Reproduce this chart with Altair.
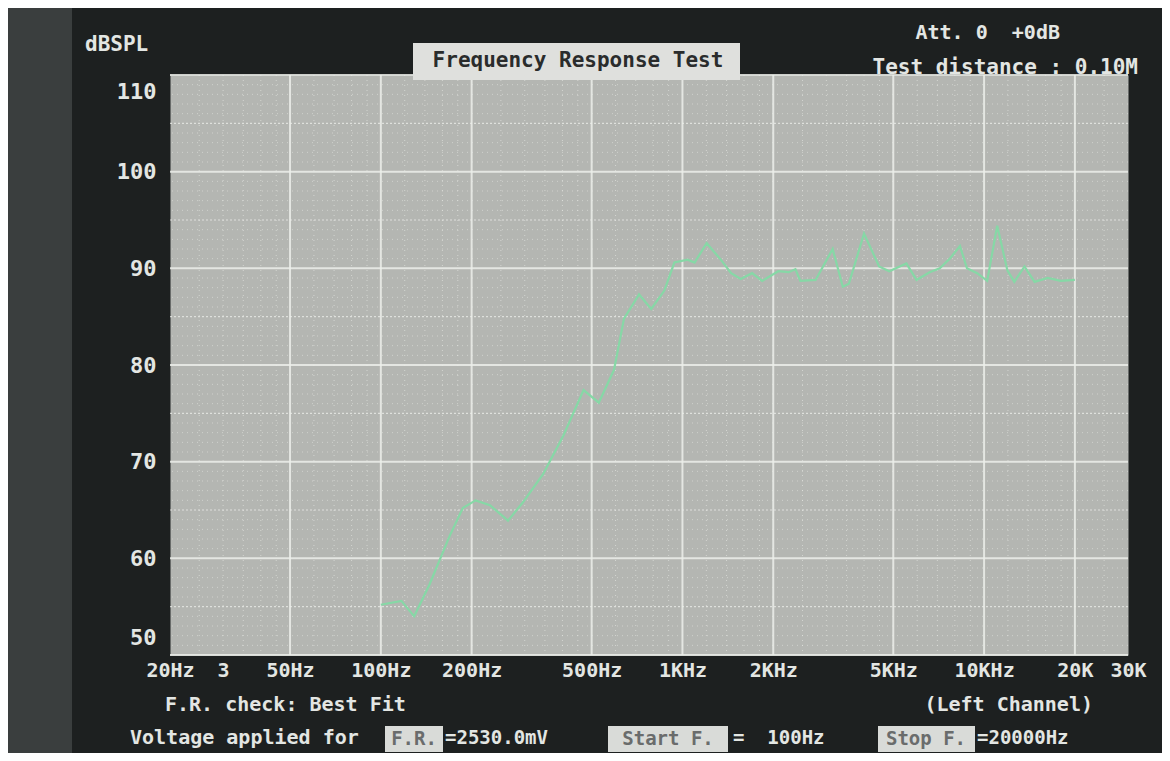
import altair as alt
import pandas as pd

# ---- data ----
freq_hz = [100, 117, 129, 145, 169, 187, 206, 230, 264, 296, 345, 403, 470, 528,
           593, 640, 718, 788, 871, 940, 1040, 1097, 1203, 1340, 1450, 1560, 1702,
           1837, 2078, 2250, 2369, 2460, 2763, 3148, 3400, 3562, 3999, 4487, 4850,
           5525, 5971, 6597, 7129, 7695, 8317, 8775, 9484, 10239, 11053, 11945,
           12597, 13614, 14700, 16250, 17960, 20000]
spl_db = [55.2, 55.6, 54.0, 57.3, 62.3, 65.2, 66.0, 65.5, 63.9, 65.8, 68.7, 72.7, 77.4, 76.1,
          79.5, 84.8, 87.3, 85.8, 87.7, 90.6, 90.9, 90.6, 92.6, 90.9, 89.5, 88.9, 89.5,
          88.7, 89.7, 89.6, 89.9, 88.7, 88.8, 92.0, 88.1, 88.4, 93.6, 90.2, 89.7,
          90.5, 88.8, 89.6, 90.0, 91.0, 92.3, 90.0, 89.5, 88.7, 94.4, 89.8, 88.6,
          90.2, 88.6, 89.0, 88.7, 88.8]

x_ticks = [20, 30, 50, 100, 200, 500, 1000, 2000, 5000, 10000, 20000, 30000]
x_tick_labels = ["20Hz", "3", "50Hz", "100Hz", "200Hz", "500Hz", "1KHz", "2KHz",
                 "5KHz", "10KHz", "20K", "30K"]
y_ticks = [50, 60, 70, 80, 90, 100, 110]
x_major_grid = [50, 100, 200, 500, 1000, 2000, 5000, 10000, 20000]
x_minor_grid = [25, 30, 35, 40, 45, 60, 70, 80, 90,
                120, 140, 160, 180, 250, 300, 350, 400, 450, 600, 700, 800, 900,
                1200, 1400, 1600, 1800, 2500, 3000, 3500, 4000, 4500, 6000, 7000, 8000, 9000,
                12000, 14000, 16000, 18000, 25000]
y_mid_grid = [55, 65, 75, 85, 95, 105]
y_minor_grid = [v for v in range(51, 110) if v % 5 != 0]

FONT = "DejaVu Sans Mono"
TXT = "#e3e6e3"
GRID = "#eceeea"

X_SCALE = alt.Scale(type="log", domain=[20, 30000], nice=False)
Y_SCALE = alt.Scale(domain=[50, 110], nice=False, zero=False)

label_expr = "".join(
    f"datum.value == {v} ? '{t}' : " for v, t in zip(x_ticks, x_tick_labels)
) + "''"

X_AXIS = alt.Axis(
    values=x_ticks, labelExpr=label_expr, title=None, grid=False, domain=False,
    ticks=False, labelFont=FONT, labelFontSize=20, labelFontWeight="bold",
    labelColor=TXT, labelPadding=5, labelOverlap=False, labelFlush=False)
Y_AXIS = alt.Axis(
    values=y_ticks, title=None, grid=False, domain=False, ticks=False,
    labelFont=FONT, labelFontSize=22, labelFontWeight="bold", labelColor=TXT,
    labelPadding=14, labelOverlap=False, labelFlush=True, labelFlushOffset=-6)

curve = pd.DataFrame({"freq": freq_hz, "spl": spl_db})

one = pd.DataFrame({"k": [0]})

# left bezel strip
bezel = alt.Chart(one).mark_rect(color="#3a3e3e").encode(
    x=alt.value(-162), x2=alt.value(-98), y=alt.value(-67), y2=alt.value(678)
)

# grids
ymin = alt.Chart(pd.DataFrame({"spl": y_minor_grid})).mark_rule(
    color=GRID, strokeWidth=1, strokeDash=[1, 4], opacity=0.5
).encode(y=alt.Y("spl:Q", scale=Y_SCALE, axis=Y_AXIS))
ymid = alt.Chart(pd.DataFrame({"spl": y_mid_grid})).mark_rule(
    color=GRID, strokeWidth=1.2, strokeDash=[2, 2], opacity=0.75
).encode(y=alt.Y("spl:Q", scale=Y_SCALE, axis=Y_AXIS))
ymaj = alt.Chart(pd.DataFrame({"spl": y_ticks})).mark_rule(
    color=GRID, strokeWidth=2, opacity=0.85
).encode(y=alt.Y("spl:Q", scale=Y_SCALE, axis=Y_AXIS))
xmin = alt.Chart(pd.DataFrame({"freq": x_minor_grid})).mark_rule(
    color=GRID, strokeWidth=1, strokeDash=[1, 4], opacity=0.55
).encode(x=alt.X("freq:Q", scale=X_SCALE, axis=X_AXIS))
xmaj = alt.Chart(pd.DataFrame({"freq": x_major_grid})).mark_rule(
    color=GRID, strokeWidth=2, opacity=0.85
).encode(x=alt.X("freq:Q", scale=X_SCALE, axis=X_AXIS))

line = alt.Chart(curve).mark_line(color="#86d8a6", strokeWidth=2.2).encode(
    x=alt.X("freq:Q", scale=X_SCALE, axis=X_AXIS),
    y=alt.Y("spl:Q", scale=Y_SCALE, axis=Y_AXIS),
)


def txt(s, x, y, align="left", color=TXT, size=20):
    return alt.Chart(pd.DataFrame({"t": [s]})).mark_text(
        font=FONT, fontSize=size, fontWeight="bold", color=color, align=align,
        baseline="middle"
    ).encode(text="t:N", x=alt.value(x), y=alt.value(y))


def box(x1, x2, y1, y2, color="#d9dbd8"):
    return alt.Chart(one).mark_rect(color=color).encode(
        x=alt.value(x1), x2=alt.value(x2), y=alt.value(y1), y2=alt.value(y2)
    )


annotations = [
    txt("dBSPL", -85, -30, size=21),
    box(243, 570, -32, 5, color="#dfe0dd"),
    txt("Frequency Response Test", 408, -14, align="center", color="#2a2c2c", size=21),
    txt("Att. 0\u00a0\u00a0+0dB", 890, -42, align="right", size=20),
    txt("Test distance : 0.10M", 968, -7, align="right", size=21),
    txt("F.R. check: Best Fit", -5, 630, size=20),
    txt("(Left Channel)", 923, 630, align="right", size=20),
    txt("Voltage applied for", -40, 663, size=20),
    box(215, 273, 651, 677),
    txt("F.R.", 244, 664, align="center", color="#6a6c6c", size=19),
    txt("=2530.0mV", 275, 663, size=19),
    box(438, 558, 651, 677),
    txt("Start F.", 498, 664, align="center", color="#6a6c6c", size=19),
    txt("=\u00a0\u00a0100Hz", 563, 663, size=19),
    box(708, 805, 651, 677),
    txt("Stop F.", 756, 664, align="center", color="#6a6c6c", size=19),
    txt("=20000Hz", 807, 663, size=19),
]

chart = alt.layer(
    bezel, ymin, ymid, xmin, ymaj, xmaj, line, *annotations
).properties(
    width=958, height=580,
    autosize=alt.AutoSizeParams(type="none"),
    padding={"left": 162, "top": 67, "right": 34, "bottom": 98},
    background="#1d2020",
).configure_view(fill="#b4b6b2", stroke="transparent")

chart.save("out.html", embed_options={"renderer": "svg", "actions": False})
